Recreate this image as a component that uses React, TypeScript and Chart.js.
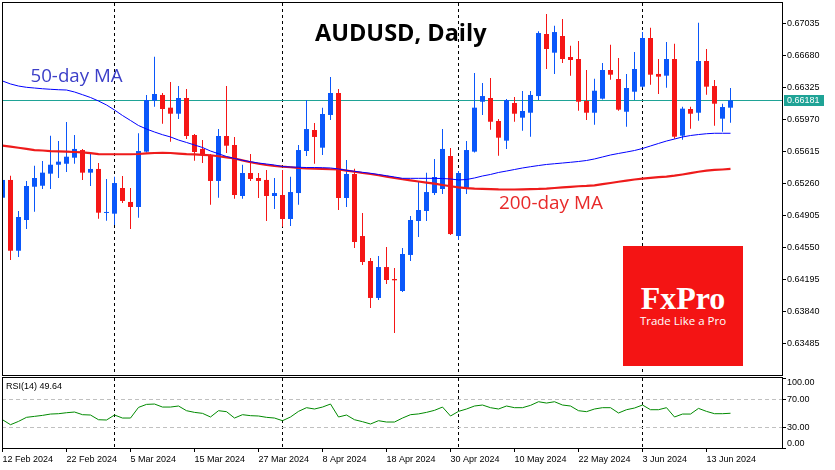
import { useEffect, useRef } from "react";
import { Chart, registerables } from "chart.js";

Chart.register(...registerables);

// ---- data ----
const tickDates = ["12 Feb 2024", "22 Feb 2024", "5 Mar 2024", "15 Mar 2024", "27 Mar 2024", "8 Apr 2024", "18 Apr 2024", "30 Apr 2024", "10 May 2024", "22 May 2024", "3 Jun 2024", "13 Jun 2024"];
const tickIndex = [0, 8, 16, 24, 32, 40, 48, 56, 64, 72, 80, 88];
const monthStartIndex = [14, 35, 57, 80];

const opens = [
  0.65100, 0.65297, 0.64512, 0.64853, 0.65222, 0.65233, 0.65367, 0.65466, 0.65477, 0.65544,
  0.65629, 0.65378, 0.65419, 0.64931, 0.64923, 0.65208, 0.65053, 0.64997, 0.65611, 0.66176,
  0.66240, 0.66099, 0.66032, 0.66206, 0.65796, 0.65641, 0.65563, 0.65286, 0.65785, 0.65685,
  0.65119, 0.65374, 0.65319, 0.65297, 0.65119, 0.65130, 0.64864, 0.65152, 0.65618, 0.65851,
  0.65655, 0.66018, 0.66262, 0.65097, 0.65363, 0.64675, 0.64398, 0.63988, 0.64331, 0.64198,
  0.64065, 0.64465, 0.64842, 0.64953, 0.65152, 0.65197, 0.65563, 0.64675, 0.65208, 0.65611,
  0.66165, 0.66206, 0.65951, 0.65733, 0.66151, 0.65988, 0.66043, 0.66228, 0.66916, 0.66709,
  0.66894, 0.66661, 0.66639, 0.66173, 0.66043, 0.66199, 0.66517, 0.66417, 0.66054, 0.66276,
  0.66332, 0.66872, 0.66473, 0.66454, 0.66639, 0.65788, 0.66084, 0.66043, 0.66617, 0.66339,
  0.65977, 0.66099,
];
const highs = [
  0.65319, 0.65344, 0.64953, 0.65286, 0.65455, 0.65507, 0.65788, 0.65729, 0.65940, 0.65796,
  0.65641, 0.65585, 0.65485, 0.65308, 0.65333, 0.65341, 0.65208, 0.65815, 0.66240, 0.66664,
  0.66262, 0.66384, 0.66339, 0.66306, 0.65807, 0.65740, 0.65585, 0.65862, 0.66339, 0.65774,
  0.65466, 0.65585, 0.65374, 0.65408, 0.65319, 0.65408, 0.65333, 0.65685, 0.66184, 0.65929,
  0.66099, 0.66439, 0.66306, 0.65518, 0.65422, 0.64931, 0.64431, 0.64453, 0.64553, 0.64320,
  0.64542, 0.64897, 0.65274, 0.65378, 0.65530, 0.65862, 0.65652, 0.65396, 0.65729, 0.66484,
  0.66373, 0.66428, 0.65973, 0.66195, 0.66217, 0.66284, 0.66284, 0.66946, 0.67138, 0.67008,
  0.67083, 0.66787, 0.66839, 0.66517, 0.66420, 0.66595, 0.66798, 0.66650, 0.66473, 0.66717,
  0.66938, 0.66986, 0.66639, 0.66828, 0.66809, 0.66110, 0.66110, 0.67042, 0.66750, 0.66406,
  0.66143, 0.66317,
];
const lows = [
  0.65086, 0.64409, 0.64442, 0.64753, 0.64945, 0.65197, 0.65197, 0.65319, 0.65385, 0.65477,
  0.65297, 0.65230, 0.64867, 0.64845, 0.64797, 0.65041, 0.64753, 0.64878, 0.65602, 0.66110,
  0.65921, 0.65721, 0.65973, 0.65751, 0.65511, 0.65485, 0.65023, 0.65100, 0.65596, 0.65089,
  0.65089, 0.65286, 0.65097, 0.64842, 0.64975, 0.64779, 0.64786, 0.65023, 0.65563, 0.65477,
  0.65574, 0.65962, 0.64964, 0.64997, 0.64542, 0.64354, 0.63877, 0.63965, 0.64143, 0.63599,
  0.64054, 0.64398, 0.64664, 0.64842, 0.65130, 0.65141, 0.64686, 0.64631, 0.65141, 0.65602,
  0.66018, 0.65855, 0.65566, 0.65641, 0.65943, 0.65844, 0.65777, 0.66184, 0.66528, 0.66473,
  0.66595, 0.66454, 0.66065, 0.65962, 0.65910, 0.66190, 0.66409, 0.66065, 0.65888, 0.66184,
  0.66323, 0.66354, 0.66251, 0.66321, 0.65755, 0.65744, 0.65866, 0.65954, 0.66243, 0.65899,
  0.65832, 0.65932,
];
const closes = [
  0.65297, 0.64512, 0.64886, 0.65230, 0.65319, 0.65378, 0.65466, 0.65500, 0.65555, 0.65641,
  0.65378, 0.65419, 0.64934, 0.64942, 0.65263, 0.65064, 0.64997, 0.65618, 0.66184, 0.66251,
  0.66084, 0.66032, 0.66206, 0.65785, 0.65607, 0.65574, 0.65286, 0.65785, 0.65677, 0.65130,
  0.65374, 0.65308, 0.65286, 0.65119, 0.65152, 0.64864, 0.65163, 0.65629, 0.65862, 0.65774,
  0.66029, 0.66262, 0.65097, 0.65363, 0.64609, 0.64387, 0.63988, 0.64331, 0.64187, 0.64184,
  0.64476, 0.64853, 0.64964, 0.65163, 0.65330, 0.65641, 0.64697, 0.65374, 0.65629, 0.66099,
  0.66228, 0.65943, 0.65766, 0.66184, 0.66032, 0.66062, 0.66240, 0.66927, 0.66750, 0.66938,
  0.66639, 0.66628, 0.66165, 0.66043, 0.66287, 0.66517, 0.66465, 0.66077, 0.66317, 0.66528,
  0.66872, 0.66465, 0.66443, 0.66639, 0.65777, 0.66088, 0.66032, 0.66617, 0.66332, 0.66143,
  0.66106, 0.66181,
];
const ma50 = [
  0.66395, 0.66362, 0.66339, 0.66325, 0.66317, 0.66309, 0.66303, 0.66298, 0.66295, 0.66273,
  0.66243, 0.66212, 0.66173, 0.66129, 0.66073, 0.66012, 0.65957, 0.65901, 0.65862, 0.65829,
  0.65799, 0.65774, 0.65740, 0.65713, 0.65685, 0.65657, 0.65618, 0.65588, 0.65557, 0.65535,
  0.65515, 0.65500, 0.65485, 0.65474, 0.65463, 0.65446, 0.65441, 0.65438, 0.65435, 0.65435,
  0.65433, 0.65430, 0.65419, 0.65404, 0.65393, 0.65382, 0.65371, 0.65358, 0.65344, 0.65330,
  0.65315, 0.65315, 0.65315, 0.65315, 0.65315, 0.65313, 0.65308, 0.65297, 0.65302, 0.65319,
  0.65341, 0.65358, 0.65380, 0.65396, 0.65413, 0.65430, 0.65444, 0.65457, 0.65469, 0.65477,
  0.65485, 0.65493, 0.65502, 0.65513, 0.65530, 0.65552, 0.65574, 0.65591, 0.65607, 0.65624,
  0.65646, 0.65674, 0.65702, 0.65729, 0.65751, 0.65774, 0.65790, 0.65801, 0.65810, 0.65815,
  0.65815, 0.65815,
];
const ma200 = [
  0.65677, 0.65666, 0.65654, 0.65641, 0.65629, 0.65624, 0.65618, 0.65615, 0.65611, 0.65607,
  0.65604, 0.65594, 0.65583, 0.65582, 0.65582, 0.65582, 0.65582, 0.65585, 0.65591, 0.65596,
  0.65599, 0.65596, 0.65590, 0.65583, 0.65580, 0.65576, 0.65571, 0.65560, 0.65547, 0.65535,
  0.65514, 0.65493, 0.65477, 0.65463, 0.65452, 0.65444, 0.65438, 0.65430, 0.65425, 0.65422,
  0.65419, 0.65416, 0.65414, 0.65401, 0.65388, 0.65374, 0.65363, 0.65349, 0.65334, 0.65319,
  0.65305, 0.65293, 0.65280, 0.65268, 0.65256, 0.65241, 0.65227, 0.65215, 0.65207, 0.65202,
  0.65199, 0.65196, 0.65192, 0.65191, 0.65191, 0.65193, 0.65196, 0.65198, 0.65202, 0.65208,
  0.65215, 0.65221, 0.65227, 0.65231, 0.65237, 0.65250, 0.65263, 0.65277, 0.65290, 0.65302,
  0.65312, 0.65320, 0.65328, 0.65335, 0.65345, 0.65358, 0.65373, 0.65388, 0.65400, 0.65408,
  0.65413, 0.65419,
];
const rsi14 = [
  40.4, 33.3, 38.0, 43.8, 45.2, 46.6, 48.5, 49.0, 50.4, 51.4,
  47.6, 47.1, 40.4, 40.0, 47.1, 42.8, 42.8, 58.0, 62.3, 62.8,
  58.5, 58.5, 60.0, 53.3, 50.9, 49.5, 44.3, 53.3, 51.9, 42.8,
  47.6, 46.2, 45.7, 43.8, 42.8, 39.0, 44.3, 52.3, 57.6, 55.7,
  58.5, 62.8, 44.3, 47.1, 40.4, 37.6, 34.3, 39.0, 37.1, 37.1,
  42.8, 47.6, 48.7, 50.9, 53.8, 58.5, 45.7, 52.3, 55.7, 60.0,
  61.4, 57.6, 55.7, 60.0, 57.6, 57.6, 60.9, 66.1, 64.2, 66.1,
  61.4, 60.0, 53.3, 51.9, 55.7, 57.6, 57.6, 50.0, 54.7, 57.1,
  61.4, 54.7, 54.7, 57.6, 44.3, 48.5, 48.5, 56.6, 52.3, 49.0,
  49.0, 49.64,
];
const priceTicks = [0.63485, 0.63840, 0.64195, 0.64550, 0.64905, 0.65260, 0.65615, 0.65970, 0.66325, 0.66680, 0.67035];
const rsiTicks = [0, 30, 70, 100];
const rsiLevels = [30, 70];

// ---- styling ----
const SMALL_FONT = "Liberation Sans";
const SMALL_SIZE = 9;
const UP = "#0A57FA";
const DOWN = "#F51616";
const BID = "#1FA396";
const X_MIN = -0.0625;
const X_MAX = 97.4375;
const Y_MIN = 0.631333;
const Y_MAX = 0.672602;

function drawMonthLines(chart: any) {
  const { ctx, chartArea: a, scales } = chart;
  ctx.save();
  ctx.strokeStyle = "#000";
  ctx.lineWidth = 1;
  ctx.setLineDash([3, 3]);
  for (const m of monthStartIndex) {
    const x = Math.floor(scales.x.getPixelForValue(m)) + 0.5;
    ctx.beginPath();
    ctx.moveTo(x, a.top);
    ctx.lineTo(x, a.bottom);
    ctx.stroke();
  }
  ctx.restore();
}

function drawFrame(chart: any) {
  const { ctx, chartArea: a } = chart;
  ctx.save();
  ctx.strokeStyle = "#000";
  ctx.lineWidth = 1;
  ctx.setLineDash([]);
  ctx.strokeRect(a.left + 0.5, a.top - 0.5, a.right - a.left, a.bottom - a.top + 1);
  ctx.restore();
}

const mainPlugin = {
  id: "mainDecor",
  beforeDatasetsDraw(chart: any) {
    drawMonthLines(chart);
    const { ctx, chartArea: a, scales } = chart;
    const y = Math.floor(scales.y.getPixelForValue(closes[closes.length - 1])) + 0.5;
    ctx.save();
    ctx.strokeStyle = BID;
    ctx.lineWidth = 1;
    ctx.beginPath();
    ctx.moveTo(a.left, y);
    ctx.lineTo(a.right, y);
    ctx.stroke();
    ctx.restore();
  },
  afterDraw(chart: any) {
    drawFrame(chart);
    const { ctx, chartArea: a, scales } = chart;
    const last = closes[closes.length - 1];
    const y = Math.floor(scales.y.getPixelForValue(last));
    ctx.save();
    ctx.fillStyle = BID;
    ctx.fillRect(a.right + 2, y - 5, 40, 11);
    ctx.fillStyle = "#fff";
    ctx.font = `${SMALL_SIZE}px ${SMALL_FONT}`;
    ctx.textBaseline = "middle";
    ctx.textAlign = "left";
    ctx.fillText(last.toFixed(5), a.right + 5, y + 0.8);
    ctx.restore();
  },
};

const rsiPlugin = {
  id: "rsiDecor",
  beforeDatasetsDraw(chart: any) {
    drawMonthLines(chart);
    const { ctx, chartArea: a, scales } = chart;
    ctx.save();
    ctx.strokeStyle = "#C0C0C0";
    ctx.lineWidth = 1;
    ctx.setLineDash([4, 3]);
    for (const lv of rsiLevels) {
      const y = Math.floor(scales.y.getPixelForValue(lv)) + 0.5;
      ctx.beginPath();
      ctx.moveTo(a.left, y);
      ctx.lineTo(a.right, y);
      ctx.stroke();
    }
    ctx.restore();
  },
  afterDraw(chart: any) {
    drawFrame(chart);
    const { ctx, chartArea: a, scales } = chart;
    ctx.save();
    ctx.fillStyle = "#000";
    ctx.font = `${SMALL_SIZE}px ${SMALL_FONT}`;
    ctx.textBaseline = "middle";
    ctx.textAlign = "left";
    for (const v of rsiTicks) {
      let y = scales.y.getPixelForValue(v);
      y = Math.min(Math.max(y, a.top + 4), a.bottom - 4.5);
      ctx.fillText(v.toFixed(2), a.right + 5, y + 0.5);
    }
    ctx.fillText(`RSI(14) ${rsi14[rsi14.length - 1].toFixed(2)}`, a.left + 4, a.top + 9);
    ctx.restore();
  },
};

function mainConfig(): any {
  const idx = closes.map((_, i) => i);
  const colors = idx.map((i) => (closes[i] >= opens[i] ? UP : DOWN));
  return {
    type: "bar",
    data: {
      datasets: [
        {
          type: "line",
          label: "MA50",
          data: idx.map((i) => ({ x: i, y: ma50[i] })),
          borderColor: "#0000FF",
          borderWidth: 1,
          pointRadius: 0,
          order: 0,
        },
        {
          type: "line",
          label: "MA200",
          data: idx.map((i) => ({ x: i, y: ma200[i] })),
          borderColor: "#EE1B1B",
          borderWidth: 2.2,
          pointRadius: 0,
          order: 1,
        },
        {
          type: "bar",
          label: "body",
          data: idx.map((i) => ({ x: i, y: [opens[i], closes[i]] })),
          backgroundColor: colors,
          borderWidth: 0,
          barThickness: 5,
          minBarLength: 1,
          grouped: false,
          inflateAmount: 0,
          order: 2,
        },
        {
          type: "bar",
          label: "wick",
          data: idx.map((i) => ({ x: i, y: [lows[i], highs[i]] })),
          backgroundColor: colors,
          borderWidth: 0,
          barThickness: 1,
          grouped: false,
          inflateAmount: 0,
          order: 3,
        },
      ],
    },
    options: {
      responsive: false,
      animation: false,
      events: [],
      layout: { padding: { left: 2, top: 3, right: 0, bottom: 2 } },
      plugins: { legend: { display: false }, tooltip: { enabled: false }, title: { display: false } },
      scales: {
        x: { type: "linear", min: X_MIN, max: X_MAX, display: false, offset: false },
        y: {
          type: "linear",
          position: "right",
          min: Y_MIN,
          max: Y_MAX,
          afterBuildTicks: (s: any) => {
            s.ticks = priceTicks.map((v) => ({ value: v }));
          },
          afterFit: (s: any) => {
            s.width = 53;
            s.paddingTop = 0;
            s.paddingBottom = 0;
          },
          ticks: {
            autoSkip: false,
            padding: 1,
            color: "#000",
            font: { family: SMALL_FONT, size: SMALL_SIZE },
            callback: (v: any) => Number(v).toFixed(5),
          },
          grid: { drawOnChartArea: false, drawTicks: true, tickLength: 4, tickColor: "#000", tickWidth: 1 },
          border: { display: false },
        },
      },
    },
    plugins: [mainPlugin],
  };
}

function rsiConfig(): any {
  const idx = rsi14.map((_, i) => i);
  return {
    type: "line",
    data: {
      datasets: [
        {
          label: "RSI(14)",
          data: idx.map((i) => ({ x: i, y: rsi14[i] })),
          borderColor: "#008A00",
          borderWidth: 1,
          pointRadius: 0,
        },
      ],
    },
    options: {
      responsive: false,
      animation: false,
      events: [],
      layout: { padding: { left: 2, top: 2, right: 0, bottom: 0 } },
      plugins: { legend: { display: false }, tooltip: { enabled: false } },
      scales: {
        x: {
          type: "linear",
          min: X_MIN,
          max: X_MAX,
          offset: false,
          position: "bottom",
          afterBuildTicks: (s: any) => {
            s.ticks = tickIndex.map((v) => ({ value: v }));
          },
          afterFit: (s: any) => {
            s.height = 22;
            s.paddingLeft = 0;
            s.paddingRight = 0;
          },
          ticks: {
            autoSkip: false,
            maxRotation: 0,
            minRotation: 0,
            align: "start",
            padding: 2,
            color: "#000",
            font: { family: SMALL_FONT, size: SMALL_SIZE },
            callback: (v: any) => {
              const k = tickIndex.indexOf(Number(v));
              return k >= 0 ? tickDates[k] : "";
            },
          },
          grid: { drawOnChartArea: false, drawTicks: true, tickLength: 4, tickColor: "#000", tickWidth: 1 },
          border: { display: false },
        },
        y: {
          type: "linear",
          position: "right",
          min: 0,
          max: 100,
          afterBuildTicks: (s: any) => {
            s.ticks = rsiTicks.map((v) => ({ value: v }));
          },
          afterFit: (s: any) => {
            s.width = 53;
            s.paddingTop = 0;
            s.paddingBottom = 0;
          },
          ticks: { display: false },
          grid: { drawOnChartArea: false, drawTicks: true, tickLength: 4, tickColor: "#000", tickWidth: 1 },
          border: { display: false },
        },
      },
    },
    plugins: [rsiPlugin],
  };
}

export default function App() {
  const mainRef = useRef<HTMLCanvasElement>(null);
  const rsiRef = useRef<HTMLCanvasElement>(null);

  useEffect(() => {
    const c1 = new Chart(mainRef.current as HTMLCanvasElement, mainConfig());
    const c2 = new Chart(rsiRef.current as HTMLCanvasElement, rsiConfig());
    return () => {
      c1.destroy();
      c2.destroy();
    };
  }, []);

  const sans = "'Open Sans', 'Noto Sans', sans-serif";
  return (
    <div style={{ position: "absolute", left: 0, top: 0, width: 835, height: 470, background: "#fff", overflow: "hidden" }}>
      <canvas ref={mainRef} width={835} height={377} style={{ position: "absolute", left: 0, top: 0 }} />
      <canvas ref={rsiRef} width={835} height={94} style={{ position: "absolute", left: 0, top: 376 }} />
      <div style={{ position: "absolute", left: 315, top: 20.8, fontFamily: sans, fontWeight: 700, fontSize: 23.5, lineHeight: "23.5px", color: "#000", whiteSpace: "nowrap" }}>
        AUDUSD, Daily
      </div>
      <div style={{ position: "absolute", left: 30.5, top: 66.1, fontFamily: sans, fontSize: 18.7, lineHeight: "18.7px", color: "#3C3FC8", whiteSpace: "nowrap" }}>
        50-day MA
      </div>
      <div style={{ position: "absolute", left: 499, top: 193.4, fontFamily: sans, fontSize: 18.9, lineHeight: "18.9px", color: "#E82A2A", whiteSpace: "nowrap" }}>
        200-day MA
      </div>
      <div style={{ position: "absolute", left: 623, top: 246, width: 120, height: 120, background: "#F41414", color: "#fff" }}>
        <div style={{ position: "absolute", left: 0, top: 36.2, width: 120, textAlign: "center", fontFamily: "'Liberation Serif', serif", fontWeight: 700, fontSize: 32, lineHeight: "32px", whiteSpace: "nowrap" }}>
          FxPro
        </div>
        <div style={{ position: "absolute", left: 0, top: 68.8, width: 120, textAlign: "center", fontFamily: sans, fontSize: 11.5, lineHeight: "11.5px", whiteSpace: "nowrap" }}>
          Trade Like a Pro
        </div>
      </div>
    </div>
  );
}
